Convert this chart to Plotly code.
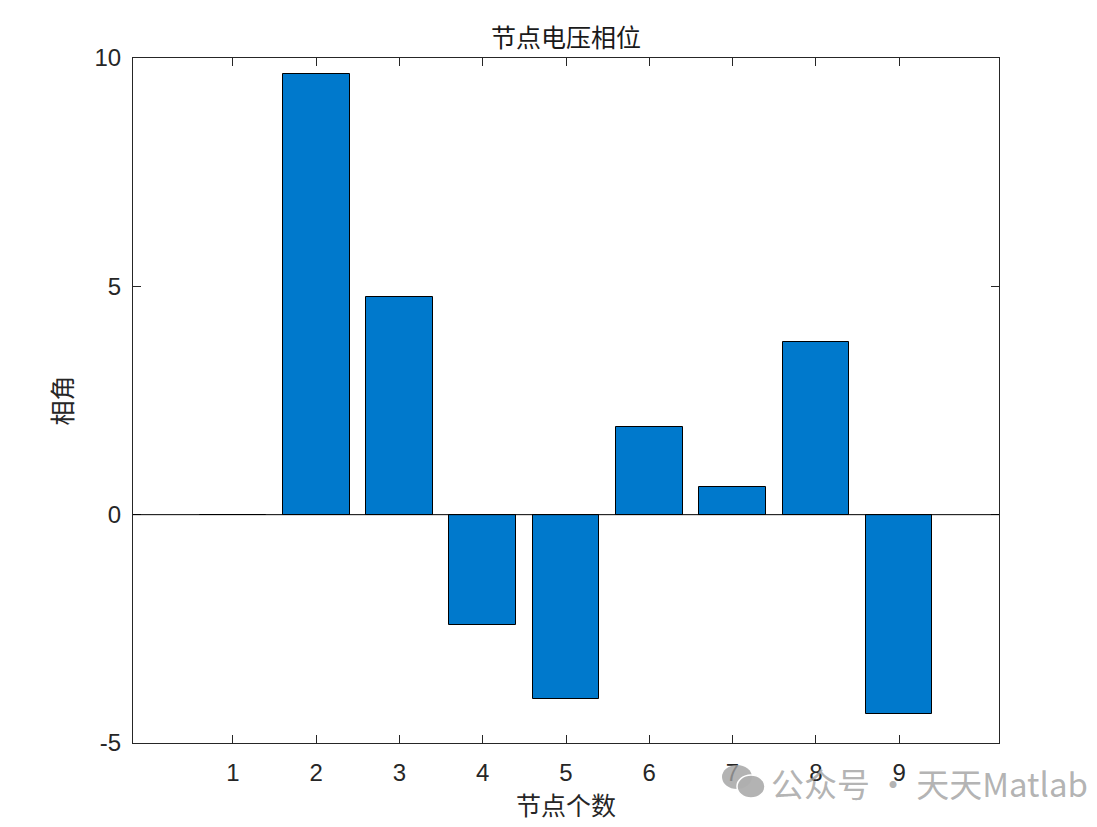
import plotly.graph_objects as go

nodes = [1, 2, 3, 4, 5, 6, 7, 8, 9]
angles = [0.0, 9.65, 4.77, -2.415, -4.03, 1.92, 0.61, 3.78, -4.37]
xticks = [1, 2, 3, 4, 5, 6, 7, 8, 9]
yticks = [-5, 0, 5, 10]
yticklabels = ["-5", "0", "5", "10"]

title_text = "节点电压相位"
xlabel = "节点个数"
ylabel = "相角"
watermark = "公众号\u2009·\u2009天天Matlab"

axis_color = "#262626"
cjk = "Noto Sans CJK SC"
num_font = "Liberation Sans, Arial"

# page body has an 8px margin, so the figure is sized to fit the window
W, H = 1089, 819
L, R, T, B = 125, 98, 50, 84
pw, ph = W - L - R, H - T - B

fig = go.Figure()
fig.add_trace(go.Bar(
    x=nodes, y=angles, width=0.8,
    marker=dict(color="#0079CC", line=dict(color="black", width=1)),
    showlegend=False,
))

fig.add_shape(type="line", xref="paper", yref="y", x0=0, x1=1, y0=0, y1=0,
              line=dict(color="black", width=1), layer="above")

fig.update_layout(
    width=W, height=H,
    margin=dict(l=L, r=R, t=T, b=B),
    plot_bgcolor="white", paper_bgcolor="white",
    bargap=0,
    title=dict(text=title_text, x=0.5, xref="paper", xanchor="center",
               y=1 - 30 / H, yanchor="middle",
               font=dict(family=cjk, size=25, color="#1a1a1a")),
    xaxis=dict(range=[-0.2, 10.2], tickmode="array", tickvals=xticks,
               ticks="inside", ticklen=8, tickcolor=axis_color, tickwidth=1,
               showline=True, linecolor=axis_color, linewidth=1, mirror="ticks",
               showgrid=False, zeroline=False, ticklabelstandoff=8,
               tickfont=dict(family=num_font, size=24, color="#262626"),
               title=dict(text=xlabel, standoff=12,
                          font=dict(family=cjk, size=25, color="#262626"))),
    yaxis=dict(range=[-5, 10], tickmode="array", tickvals=yticks,
               ticktext=yticklabels,
               ticks="inside", ticklen=8, tickcolor=axis_color, tickwidth=1,
               showline=True, linecolor=axis_color, linewidth=1, mirror="ticks",
               showgrid=False, zeroline=False, ticklabelstandoff=6,
               tickfont=dict(family=num_font, size=24, color="#262626"),
               title=dict(text=ylabel, standoff=14,
                          font=dict(family=cjk, size=25, color="#262626"))),
)

# watermark (text + simple chat-bubble icon)
def px(x):
    return (x - 8 - L) / pw

def py(y):
    return 1 - (y - 8 - T) / ph

wm_gray = "rgba(160,160,160,0.8)"
fig.add_shape(type="circle", xref="paper", yref="paper",
              x0=px(722), x1=px(752), y0=py(789), y1=py(765),
              fillcolor=wm_gray, line=dict(width=0))
fig.add_shape(type="circle", xref="paper", yref="paper",
              x0=px(737), x1=px(765), y0=py(798), y1=py(775),
              fillcolor="rgba(175,175,175,0.95)", line=dict(color="white", width=1.5))
fig.add_annotation(text=watermark, xref="paper", yref="paper",
                   x=px(1090), y=py(783),
                   xanchor="right", yanchor="middle", showarrow=False,
                   font=dict(family=cjk, size=33, color="rgba(160,160,160,0.8)"))

fig.write_html("out.html")
